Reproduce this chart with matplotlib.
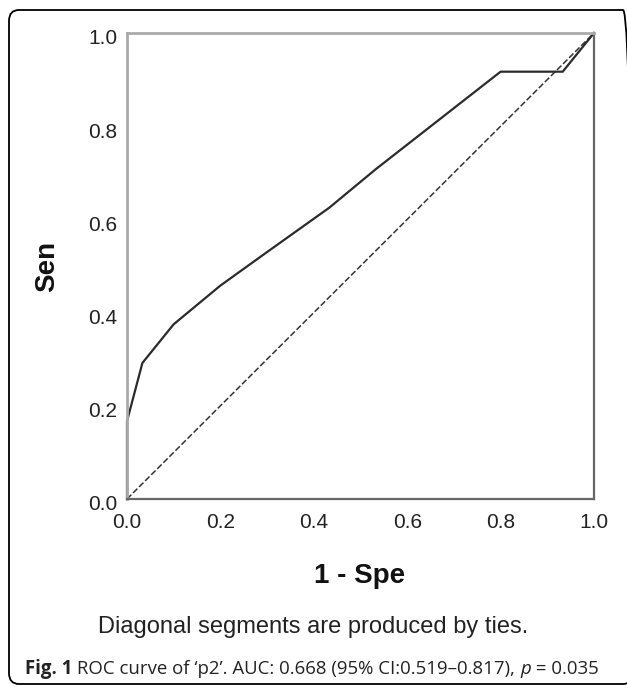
import matplotlib
matplotlib.use("Agg")
import matplotlib.pyplot as plt
from matplotlib.patches import FancyBboxPatch
from matplotlib.transforms import ScaledTranslation

# ROC curve points
fpr = [0.0, 0.0, 0.033, 0.1, 0.2, 0.3, 0.433, 0.533, 0.8, 0.933, 1.0]
sen = [0.0, 0.167, 0.292, 0.375, 0.458, 0.53, 0.625, 0.708, 0.917, 0.917, 1.0]
ref_line = [0.0, 1.0]
ticks = [0.0, 0.2, 0.4, 0.6, 0.8, 1.0]
tick_labels = ['0.0', '0.2', '0.4', '0.6', '0.8', '1.0']

W, H = 627, 685
fig = plt.figure(figsize=(W / 100, H / 100), dpi=100)

def fx(px):
    return px / W

def fy(py):
    return 1 - py / H

# outer rounded frame (right side runs off the picture)
frame = FancyBboxPatch((fx(9), fy(684)), fx(624), fy(10) - fy(684),
                       boxstyle="round,pad=0,rounding_size=0.016",
                       transform=fig.transFigure, fill=False,
                       edgecolor='black', linewidth=1.3, clip_on=False)
fig.patches.append(frame)

ax = fig.add_axes([fx(127), fy(499), fx(467), fy(33) - fy(499)])
ax.plot(ref_line, ref_line, color='#333333', linewidth=1.1, linestyle=(0, (4, 1.6)))
ax.plot(fpr, sen, color='#2b2b2b', linewidth=1.6, solid_joinstyle='miter', clip_on=False)

ax.set_xlim(0, 1)
ax.set_ylim(0, 1)
ax.set_xticks(ticks)
ax.set_yticks(ticks)
ax.set_xticklabels(tick_labels, fontsize=15, family='Liberation Sans', color='#222222')
ax.set_yticklabels(tick_labels, fontsize=15, family='Liberation Sans', color='#222222')
ax.tick_params(length=0, pad=7)
ax.tick_params(axis='x', pad=10)

# SPSS puts y labels a little below the gridline
offset = ScaledTranslation(0, -4 / 100, fig.dpi_scale_trans)
for lab in ax.get_yticklabels():
    lab.set_transform(lab.get_transform() + offset)

for side in ['left', 'top']:
    ax.spines[side].set_color('#aaaaaa')
    ax.spines[side].set_linewidth(2)
for side in ['right', 'bottom']:
    ax.spines[side].set_color('#666666')
    ax.spines[side].set_linewidth(1.6)

fig.text(fx(360), fy(576), '1 - Spe', ha='center', va='center', fontsize=20,
         fontweight='bold', family='Liberation Sans', color='#111111')
fig.text(fx(47), fy(266), 'Sen', ha='center', va='center', rotation=90, fontsize=20,
         fontweight='bold', family='Liberation Sans', color='#111111')
fig.text(fx(313), fy(627), 'Diagonal segments are produced by ties.', ha='center',
         va='center', fontsize=17, family='Liberation Sans', color='#222222')

# caption built from pieces so that 'Fig. 1' is bold and p is italic
parts = [('Fig. 1', 'bold', 'normal'),
         (' ROC curve of \u2018p2\u2019. AUC: 0.668 (95% CI:0.519\u20130.817), ', 'normal', 'normal'),
         ('p', 'normal', 'italic'),
         (' = 0.035', 'normal', 'normal')]
renderer = fig.canvas.get_renderer()
x = 25
for txt, weight, style in parts:
    t = fig.text(fx(x), fy(674), txt, ha='left', va='baseline', fontsize=13.4,
                 family='Open Sans', fontweight=weight, fontstyle=style, color='#222222')
    bb = t.get_window_extent(renderer)
    x += bb.width

fig.savefig('out.png', dpi=100)
